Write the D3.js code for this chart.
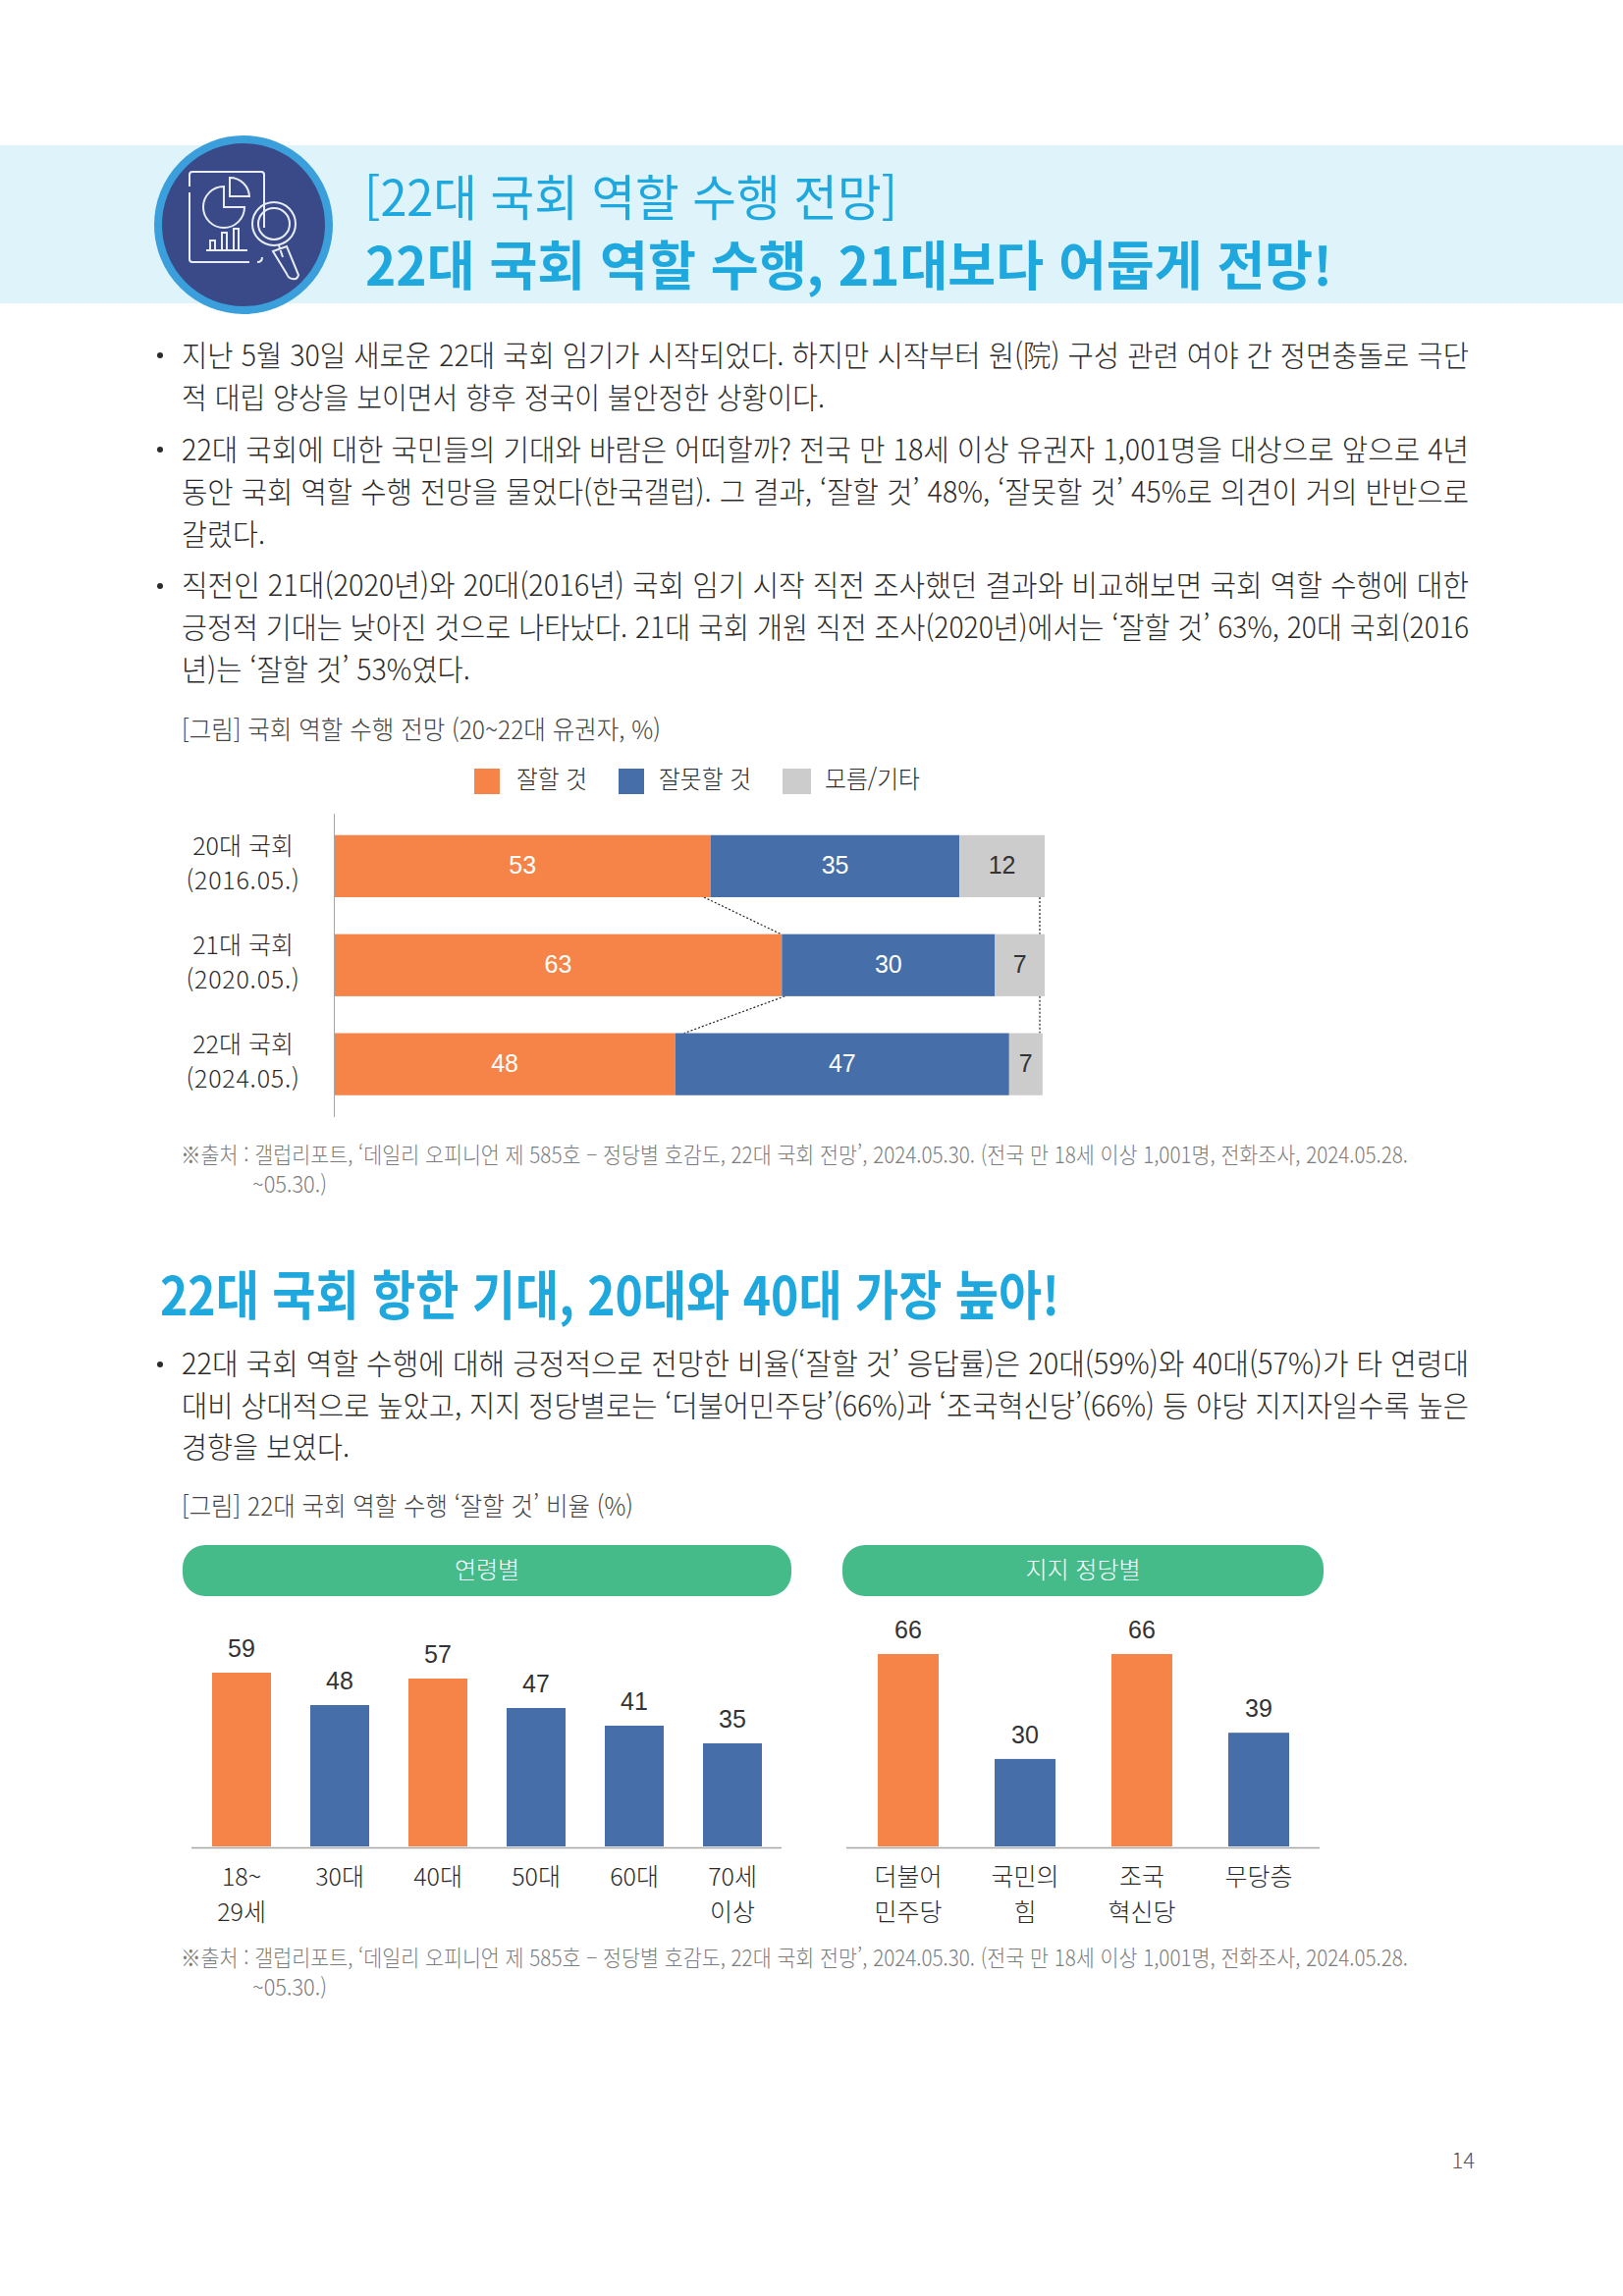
<!DOCTYPE html>
<html lang="ko">
<head>
<meta charset="utf-8">
<title>22대 국회 역할 수행 전망</title>
<script src="https://cdn.jsdelivr.net/npm/d3@7"></script>
<style>
  html, body { margin: 0; padding: 0; background: #fff; }
  svg { display: block; }
  text { font-family: "Noto Sans CJK KR", "Noto Sans", sans-serif; font-weight: 300; }
  .num { font-family: "Liberation Sans", "Noto Sans CJK KR", sans-serif; font-weight: 400; }
</style>
</head>
<body>
<svg id="page" width="1653" height="2339"></svg>
<script>
// stacked bars: outlook by assembly
const rows = ["20대", "21대", "22대"];
const rowLabels = [["20대 국회", "(2016.05.)"], ["21대 국회", "(2020.05.)"], ["22대 국회", "(2024.05.)"]];
const good = [53, 63, 48];
const bad = [35, 30, 47];
const other = [12, 7, 7];
// the source draws the last grey segment narrower than its "7" label
const otherDrawn = [12, 7, 4.7];
const legendNames = ["잘할 것", "잘못할 것", "모름/기타"];

// age bars
const ages = ["18~29세", "30대", "40대", "50대", "60대", "70세 이상"];
const ageLabels = [["18~", "29세"], ["30대"], ["40대"], ["50대"], ["60대"], ["70세", "이상"]];
const ageValues = [59, 48, 57, 47, 41, 35];
const ageHighlight = ["18~29세", "40대"];

// party bars
const parties = ["더불어민주당", "국민의힘", "조국혁신당", "무당층"];
const partyLabels = [["더불어", "민주당"], ["국민의", "힘"], ["조국", "혁신당"], ["무당층"]];
const partyValues = [66, 30, 66, 39];
const partyHighlight = ["더불어민주당", "조국혁신당"];

const bodyTop = [
  "지난 5월 30일 새로운 22대 국회 임기가 시작되었다. 하지만 시작부터 원(院) 구성 관련 여야 간 정면충돌로 극단",
  "적 대립 양상을 보이면서 향후 정국이 불안정한 상황이다.",
  "22대 국회에 대한 국민들의 기대와 바람은 어떠할까? 전국 만 18세 이상 유권자 1,001명을 대상으로 앞으로 4년",
  "동안 국회 역할 수행 전망을 물었다(한국갤럽). 그 결과, ‘잘할 것’ 48%, ‘잘못할 것’ 45%로 의견이 거의 반반으로",
  "갈렸다.",
  "직전인 21대(2020년)와 20대(2016년) 국회 임기 시작 직전 조사했던 결과와 비교해보면 국회 역할 수행에 대한",
  "긍정적 기대는 낮아진 것으로 나타났다. 21대 국회 개원 직전 조사(2020년)에서는 ‘잘할 것’ 63%, 20대 국회(2016",
  "년)는 ‘잘할 것’ 53%였다."
];
const bodyBottom = [
  "22대 국회 역할 수행에 대해 긍정적으로 전망한 비율(‘잘할 것’ 응답률)은 20대(59%)와 40대(57%)가 타 연령대",
  "대비 상대적으로 높았고, 지지 정당별로는 ‘더불어민주당’(66%)과 ‘조국혁신당’(66%) 등 야당 지지자일수록 높은",
  "경향을 보였다."
];
const sourceLine = "※출처 : 갤럽리포트, ‘데일리 오피니언 제 585호 – 정당별 호감도, 22대 국회 전망’, 2024.05.30. (전국 만 18세 이상 1,001명, 전화조사, 2024.05.28.";
const sourceTail = "~05.30.)";

const ORANGE = "#f68448";
const BLUE = "#466ea8";
const GREY = "#cccccc";
const SKY = "#1fa8dd";
const INK = "#2b2b2b";
const GREEN = "#45bb8a";

const svg = d3.select("#page");

// text helper, width squeezes the line to the measured length in the print layout
function put(parent, x, y, str, size, opts = {}) {
  const t = parent.append("text")
    .attr("x", x)
    .attr("y", y)
    .attr("font-size", size)
    .attr("fill", opts.fill || INK)
    .attr("text-anchor", opts.anchor || "start")
    .text(str);
  if (opts.weight) t.style("font-weight", opts.weight);
  if (opts.cls) t.attr("class", opts.cls);
  if (opts.width) t.attr("textLength", opts.width).attr("lengthAdjust", "spacingAndGlyphs");
  return t;
}

// header band
svg.append("rect").attr("x", 0).attr("y", 148).attr("width", 1653).attr("height", 161).attr("fill", "#def3fa");
svg.append("circle").attr("cx", 248).attr("cy", 229).attr("r", 87)
  .attr("fill", "#3a4a88").attr("stroke", "#3a9fdb").attr("stroke-width", 8);

const icon = svg.append("g").attr("fill", "none").attr("stroke", "#e8ecf5").attr("stroke-width", 2);
icon.append("path").attr("d", "M193 190V178Q193 175 196 175H266Q269 175 269 178V232M193 196V264Q193 267 196 267H254M262 267Q267 267 267 262");
icon.append("path").attr("d", "M228 190A21 21 0 1 0 249 211H228Z");
icon.append("path").attr("d", "M234 181A20 20 0 0 1 254 200H234Z");
icon.append("path").attr("d", "M210 255H252M214 255V245H219V255M226 255V237H231V255M238 255V233H243V255");
icon.append("circle").attr("cx", 279).attr("cy", 228).attr("r", 22);
icon.append("circle").attr("cx", 279).attr("cy", 228).attr("r", 16);
icon.append("path").attr("d", "M284 250L288 262M278 256L292 251L304 280Q303 285 298 284Q294 284 292 279Z");

put(svg, 371, 220, "[22대 국회 역할 수행 전망]", 50, { fill: SKY, weight: 400, width: 543 });
put(svg, 372, 291, "22대 국회 역할 수행, 21대보다 어둡게 전망!", 54, { fill: SKY, weight: 700, width: 985 });

// body copy
const topBase = [373, 416, 469, 512, 555, 607, 650, 693];
const topWidth = [1311, 655, 1311, 1311, 85, 1311, 1311, 294];
bodyTop.forEach((line, i) => put(svg, 185, topBase[i], line, 30, { width: topWidth[i] }));
[362, 458, 597].forEach(cy => svg.append("circle").attr("cx", 163).attr("cy", cy).attr("r", 3).attr("fill", INK));

put(svg, 185, 753, "[그림] 국회 역할 수행 전망 (20~22대 유권자, %)", 26, { fill: "#444", width: 488 });

// ---- stacked bars ----
const xShare = d3.scaleLinear().domain([0, 100]).range([340.5, 1064]);
const yRow = d3.scaleBand().domain(rows).range([832, 1134.5]).paddingInner(0.373).paddingOuter(0.186);

const stackData = rows.map((r, i) => ({ row: r, good: good[i], bad: bad[i], other: otherDrawn[i] }));
const seriesKeys = ["good", "bad", "other"];
const series = d3.stack().keys(seriesKeys)(stackData);
const colorOf = d3.scaleOrdinal().domain(seriesKeys).range([ORANGE, BLUE, GREY]);
const shownValues = { good, bad, other };

const stacked = svg.append("g");

// dotted guides between rows, behind the bars
const guide = [
  [xShare(53) - 7, yRow("20대") + yRow.bandwidth(), xShare(63) - 1, yRow("21대")],
  [xShare(63) + 3, yRow("21대") + yRow.bandwidth(), xShare(48) + 9, yRow("22대")],
  [xShare(100) - 5, yRow("20대") + yRow.bandwidth(), xShare(100) - 5, yRow("21대")],
  [xShare(100) - 5, yRow("21대") + yRow.bandwidth(), xShare(100) - 5, yRow("22대")]
];
stacked.selectAll("line.guide").data(guide).enter().append("line")
  .attr("class", "guide")
  .attr("x1", d => d[0]).attr("y1", d => d[1]).attr("x2", d => d[2]).attr("y2", d => d[3])
  .attr("stroke", "#222").attr("stroke-width", 1.2).attr("stroke-dasharray", "2 2");

const layers = stacked.selectAll("g.layer").data(series).enter().append("g").attr("class", "layer");
layers.selectAll("rect").data(d => d).enter().append("rect")
  .attr("x", d => xShare(d[0]))
  .attr("y", d => yRow(d.data.row))
  .attr("width", d => xShare(d[1]) - xShare(d[0]))
  .attr("height", yRow.bandwidth())
  .attr("fill", function () { return colorOf(d3.select(this.parentNode).datum().key); });
layers.selectAll("text").data(d => d.map((v, i) => ({ v, i, key: d.key }))).enter().append("text")
  .attr("class", "num")
  .attr("x", d => xShare((d.v[0] + d.v[1]) / 2))
  .attr("y", d => yRow(d.v.data.row) + yRow.bandwidth() / 2 + 8)
  .attr("text-anchor", "middle")
  .attr("font-size", 25)
  .attr("fill", d => d.key === "other" ? "#333" : "#fff")
  .text(d => shownValues[d.key][d.i]);

const rowAxis = stacked.append("g")
  .attr("transform", `translate(${xShare(0)},0)`)
  .call(d3.axisLeft(yRow).tickSize(0).tickFormat(""));
rowAxis.select(".domain").remove();
rowAxis.selectAll(".tick text").attr("x", -93).attr("text-anchor", "middle").attr("dy", null)
  .attr("fill", INK).attr("font-size", 25).each(function (d, i) {
    const sel = d3.select(this).attr("y", 0);
    rowLabels[i].forEach((s, j) => sel.append("tspan").attr("x", -93).attr("y", j === 0 ? -11 : 24)
      .attr("letter-spacing", j === 0 ? null : 0.75).text(s));
  });
stacked.append("line").attr("x1", xShare(0)).attr("x2", xShare(0)).attr("y1", 829).attr("y2", 1138)
  .attr("stroke", "#a6a6a6").attr("stroke-width", 1);

// legend
const legendSwatch = [[483, 26], [630, 26], [797, 29]];
const legendText = [526, 671, 840];
const legendWidth = [72, 94, 97];
legendNames.forEach((name, i) => {
  svg.append("rect").attr("x", legendSwatch[i][0]).attr("y", 783).attr("width", legendSwatch[i][1]).attr("height", 26)
    .attr("fill", [ORANGE, BLUE, GREY][i]);
  put(svg, legendText[i], 803, name, 25, { width: legendWidth[i] });
});

put(svg, 184, 1185, sourceLine, 23, { fill: "#7c7c7c", width: 1250 });
put(svg, 257, 1215, sourceTail, 23, { fill: "#7c7c7c", width: 76 });

// section two
put(svg, 163, 1340, "22대 국회 항한 기대, 20대와 40대 가장 높아!", 54, { fill: SKY, weight: 700, width: 916 });
const botBase = [1400, 1443, 1485];
const botWidth = [1311, 1311, 171];
bodyBottom.forEach((line, i) => put(svg, 185, botBase[i], line, 30, { width: botWidth[i] }));
svg.append("circle").attr("cx", 163).attr("cy", 1390).attr("r", 3).attr("fill", INK);

put(svg, 185, 1544, "[그림] 22대 국회 역할 수행 ‘잘할 것’ 비율 (%)", 26, { fill: "#444", width: 460 });

// column panel shared by age and party charts
function columns(cfg) {
  const x = d3.scaleBand().domain(cfg.names).range(cfg.range).paddingInner(cfg.pad).paddingOuter(cfg.pad / 2);
  const y = d3.scaleLinear().domain([0, 100]).range([1881, 1881 - cfg.unit * 100]);
  const g = svg.append("g");

  g.append("rect").attr("x", cfg.pill[0]).attr("y", 1574).attr("width", cfg.pill[1] - cfg.pill[0]).attr("height", 52)
    .attr("rx", 23).attr("fill", GREEN);
  put(g, (cfg.pill[0] + cfg.pill[1]) / 2, 1608, cfg.title, 24, { fill: "#fff", anchor: "middle" });

  const data = cfg.names.map((n, i) => ({ name: n, value: cfg.values[i] }));
  g.selectAll("rect.col").data(data).enter().append("rect")
    .attr("class", "col")
    .attr("x", d => x(d.name))
    .attr("y", d => y(d.value))
    .attr("width", x.bandwidth())
    .attr("height", d => y(0) - y(d.value))
    .attr("fill", d => cfg.highlight.includes(d.name) ? ORANGE : BLUE);
  g.selectAll("text.val").data(data).enter().append("text")
    .attr("class", "num")
    .attr("x", d => x(d.name) + x.bandwidth() / 2)
    .attr("y", d => y(d.value) - 16)
    .attr("text-anchor", "middle")
    .attr("font-size", 25)
    .attr("fill", "#333")
    .text(d => d.value);

  const ax = g.append("g").attr("transform", "translate(0,1881)")
    .call(d3.axisBottom(x).tickSize(0).tickFormat(""));
  ax.select(".domain").remove();
  ax.selectAll(".tick text").attr("dy", null).attr("fill", INK).attr("font-size", 25).attr("text-anchor", "middle")
    .each(function (d, i) {
      const sel = d3.select(this);
      cfg.labels[i].forEach((s, j) => sel.append("tspan").attr("x", 0).attr("y", j === 0 ? 40 : 76).text(s));
    });
  g.append("line").attr("x1", cfg.base[0]).attr("x2", cfg.base[1]).attr("y1", 1882.5).attr("y2", 1882.5)
    .attr("stroke", "#a6a6a6").attr("stroke-width", 1.5);
}

columns({
  title: "연령별", names: ages, labels: ageLabels, values: ageValues, highlight: ageHighlight,
  range: [196, 796], pad: 0.4, unit: 3, pill: [186, 806], base: [195, 796]
});
columns({
  title: "지지 정당별", names: parties, labels: partyLabels, values: partyValues, highlight: partyHighlight,
  range: [865.5, 1341.5], pad: 0.479, unit: 2.97, pill: [858, 1348], base: [862, 1344]
});

put(svg, 184, 2003, sourceLine, 23, { fill: "#7c7c7c", width: 1250 });
put(svg, 257, 2033, sourceTail, 23, { fill: "#7c7c7c", width: 76 });

put(svg, 1502, 2209, "14", 22, { fill: "#555", anchor: "end" });
</script>
</body>
</html>
